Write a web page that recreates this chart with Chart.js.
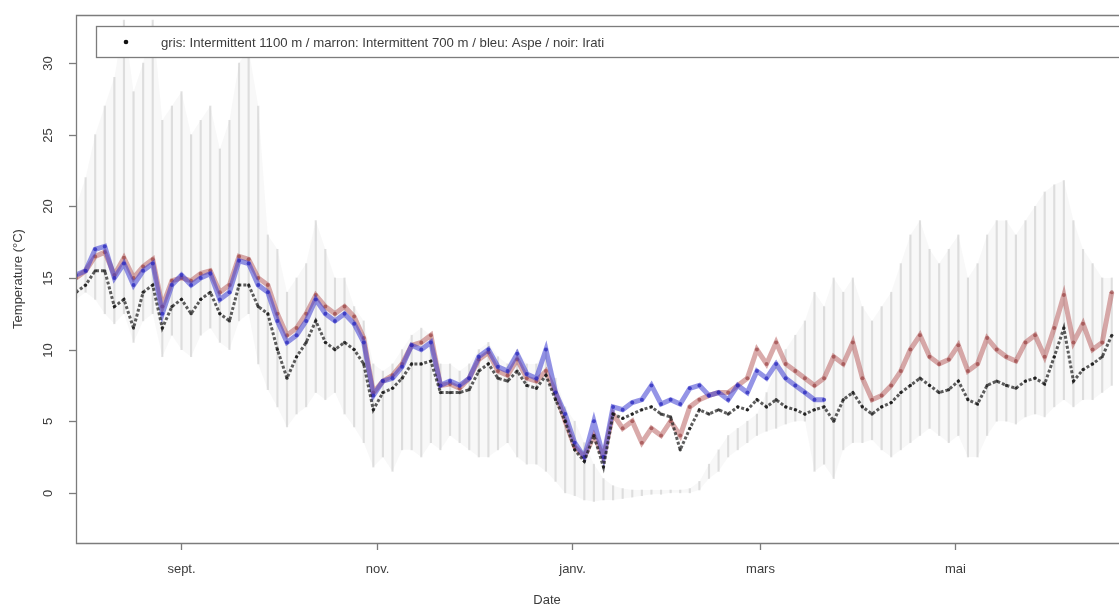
<!DOCTYPE html>
<html><head><meta charset="utf-8">
<script src="https://cdn.jsdelivr.net/npm/chart.js@4.4.0/dist/chart.umd.min.js"></script>
<style>html,body{margin:0;padding:0;background:#fff;overflow:hidden;}</style>
</head><body>
<canvas id="c" width="1119" height="607"></canvas>
<script>
// day offsets from 1 August
const days = [-2,1,4,7,10,13,16,19,22,25,28,31,34,37,40,43,46,49,52,55,58,61,64,67,70,73,76,79,82,85,88,91,94,97,100,103,106,109,112,115,118,121,124,127,130,133,136,139,142,145,148,151,154,157,160,163,166,169,172,175,178,181,184,187,190,193,196,199,202,205,208,211,214,217,220,223,226,229,232,235,238,241,244,247,250,253,256,259,262,265,268,271,274,277,280,283,286,289,292,295,298,301,304,307,310,313,316,319,322];

const aspe = [15.2,15.5,17,17.2,15,16,14.5,15.5,16,12.5,
  14.5,15.2,14.5,15,15.3,13.5,14,16.2,16,14.5,
  14,12,10.5,11,12,13.5,12.5,12,12.5,11.8,
  10.5,6.8,7.8,8,8.8,10.3,10,10.5,7.5,7.8,
  7.5,8,9.5,10,8.8,8.5,9.7,8.3,8,10,
  7,5.5,3.5,2.5,5,2.5,6,5.8,6.3,6.5,
  7.5,6.2,6.5,6.2,7.3,7.5,6.8,7,6.5,7.5,
  7,8.5,8,9,8,7.5,7,6.5,6.5,
  null,null,null,null,null,null,null,null,null,null,
  null,null,null,null,null,null,null,null,null,null,
  null,null,null,null,null,null,null,null,null,null];

const marron = [15,15.5,16.5,16.8,15.2,16.4,15,15.8,16.3,13,
  14.8,15,14.8,15.3,15.5,14,14.5,16.5,16.3,15,
  14.5,12.5,11,11.5,12.5,13.8,13,12.5,13,12.3,
  10.8,7,7.8,8.2,9,10.3,10.5,11,7.5,7.6,
  7.3,8,9.3,9.8,8.5,8.2,9.3,8,7.8,8.5,
  7,5,3.2,2.5,4,2.5,5.5,4.5,5,3.5,
  4.5,4,5,4,6,6.5,6.8,7,7,7.5,
  8,10,9,10.5,9,8.5,8,7.5,8,9.5,
  9,10.5,8,6.5,6.8,7.5,8.5,10,11,9.5,
  9,9.3,10.3,8.5,9,10.8,10,9.5,9.2,10.5,
  11,9.5,11.5,13.8,10.5,11.8,10,10.5,14];

const irati = [14,14.5,15.5,15.5,13,13.5,11.5,14,14.5,11.5,
  13,13.5,12.5,13.5,14,12.5,12,14.5,14.5,13,
  12.5,10,8,9.5,10.5,12,10.5,10,10.5,10,
  9,5.8,7,7.3,8,9,9,9.2,7,7,
  7,7.2,8.5,9,8,7.8,8.5,7.5,7.3,8.2,
  6.5,5,3,2.2,4,1.8,5.5,5.2,5.5,5.8,
  6,5.5,5.3,3,4.5,5.8,5.5,5.8,5.5,6,
  5.8,6.5,6,6.5,6,5.8,5.5,5.8,6,5,
  6.5,7,6,5.5,6,6.3,7,7.5,8,7.5,
  7,7.2,7.8,6.5,6.2,7.5,7.8,7.5,7.3,7.8,
  8,7.6,9.5,11.5,7.8,8.6,9,9.5,11];

const grisMin = [13.5,14,13.5,12.5,11.8,12.5,10.5,12,12.5,9.5,
  11,10,9.5,11,11.5,10.5,10,12,12.5,9,
  7.2,6,4.6,5.5,6,7,6.5,7,5.5,4.6,
  3.5,1.8,2.5,1.5,3,3,2.5,3.5,3,4,
  3.5,3,2.5,2.5,3,3.5,2.5,2,2,1.5,
  0.8,0,-0.2,-0.5,-0.6,-0.5,-0.5,-0.4,-0.3,-0.2,
  -0.1,-0.1,0,0,0,0.2,1,1.5,2.5,3,
  3.5,4,4.3,4.5,4.8,5,5,1.5,2,1,
  3,3.5,3.5,3.7,3,2.5,3,3.5,4,4.5,
  4,3.5,4,2.5,2.5,4,5,5,4.8,5.3,
  5.5,5.3,6,6.5,6,6.5,6.5,7,7.5];

const grisMax = [20,22,25,27,29,33,28,30,33,26,
  27,28,25,26,27,24,26,30,31,27,
  18,17,14,15,16,19,17,15,15,13,
  12,9,8.5,9,10,11,11.5,11,9,9,
  8.5,9,10,10.5,9.5,9,10,9,9,10,
  8,6,5,3.5,2,1,0.5,0.3,0.2,0.2,
  0.2,0.2,0.2,0.2,0.3,0.8,2,3,4,4.5,
  5,5.5,7,9,10,11,12,14,13,15,
  14,15,13,12,13,14,16,18,19,17,
  16,17,18,15,16,18,19,19,18,19,
  20,21,21.5,21.8,19,17,16,15,15];

const xTickDays = [31,92,153,212,273];
const xTickLabels = ['sept.','nov.','janv.','mars','mai'];
const yTicks = [0,5,10,15,20,25,30];
const legendText = 'gris: Intermittent 1100 m / marron: Intermittent 700 m / bleu: Aspe / noir: Irati';
const xTitle = 'Date';
const yTitle = 'Temperature (\u00B0C)';

const pts = arr => days.map((d,i) => ({x: d, y: arr[i]}));
const bars = days.map((d,i) => ({x: d, y: [grisMin[i], grisMax[i]]}));

const FONT = '"Liberation Sans", Arial, sans-serif';

const decor = {
  id: 'decor',
  afterDraw(chart) {
    const {ctx, chartArea: a, scales: {x, y}} = chart;
    ctx.save();
    ctx.strokeStyle = '#7c7c7c';
    ctx.lineWidth = 1.3;
    ctx.beginPath();
    ctx.moveTo(a.right + 5, a.top + 0.5);
    ctx.lineTo(a.left + 0.5, a.top + 0.5);
    ctx.lineTo(a.left + 0.5, a.bottom + 0.5);
    ctx.lineTo(a.right + 5, a.bottom + 0.5);
    ctx.stroke();
    ctx.fillStyle = '#3c3c3c';
    ctx.font = '13px ' + FONT;
    ctx.textAlign = 'center';
    ctx.textBaseline = 'middle';
    xTickDays.forEach((d, i) => {
      const px = Math.round(x.getPixelForValue(d)) + 0.5;
      ctx.beginPath(); ctx.moveTo(px, a.bottom); ctx.lineTo(px, a.bottom + 7); ctx.stroke();
      ctx.fillText(xTickLabels[i], px, 569);
    });
    yTicks.forEach(v => {
      const py = Math.round(y.getPixelForValue(v)) + 0.5;
      ctx.beginPath(); ctx.moveTo(a.left - 7, py); ctx.lineTo(a.left, py); ctx.stroke();
      ctx.save(); ctx.translate(48, py); ctx.rotate(-Math.PI / 2);
      ctx.fillText(String(v), 0, 0); ctx.restore();
    });
    ctx.fillText(xTitle, 547, 600);
    ctx.save(); ctx.translate(18, (a.top + a.bottom) / 2); ctx.rotate(-Math.PI / 2);
    ctx.fillText(yTitle, 0, 0); ctx.restore();
    // legend box
    ctx.fillStyle = '#fff';
    ctx.fillRect(96, 26, 1040, 32);
    ctx.strokeRect(96.5, 26.5, 1040, 31);
    ctx.beginPath(); ctx.arc(126, 42, 2.3, 0, 2 * Math.PI);
    ctx.fillStyle = '#111'; ctx.fill();
    ctx.fillStyle = '#3c3c3c';
    ctx.font = '13.2px ' + FONT;
    ctx.textAlign = 'left';
    ctx.fillText(legendText, 161, 43);
    ctx.restore();
  }
};

new Chart(document.getElementById('c'), {
  type: 'bar',
  data: {
    datasets: [
      {type: 'line', label: 'noir: Irati', data: pts(irati), order: 0,
        borderColor: 'rgba(25,25,25,0.7)', borderWidth: 3, borderDash: [3, 2], pointRadius: 1.6,
        pointBackgroundColor: 'rgba(20,20,20,0.8)', pointBorderWidth: 0, tension: 0, fill: false},
      {type: 'line', label: 'bleu: Aspe', data: pts(aspe), order: 1,
        borderColor: 'rgba(60,60,210,0.55)', borderWidth: 5, pointRadius: 2,
        pointBackgroundColor: 'rgba(40,40,190,0.75)', pointBorderWidth: 0, tension: 0, fill: false, spanGaps: false},
      {type: 'line', label: 'marron: Intermittent 700 m', data: pts(marron), order: 2,
        borderColor: 'rgba(180,85,85,0.5)', borderWidth: 5, pointRadius: 2,
        pointBackgroundColor: 'rgba(150,60,60,0.65)', pointBorderWidth: 0, tension: 0, fill: false},
      {type: 'bar', label: 'gris', data: bars, order: 3,
        backgroundColor: 'rgba(160,160,160,0.3)', borderWidth: 0, barThickness: 1.5, grouped: false},
      {type: 'line', label: 'gris max', data: pts(grisMax), order: 4,
        borderWidth: 0, pointRadius: 0, fill: '+1', backgroundColor: 'rgba(200,200,200,0.12)', tension: 0},
      {type: 'line', label: 'gris min', data: pts(grisMin), order: 5,
        borderWidth: 0, pointRadius: 0, fill: false, tension: 0}
    ]
  },
  options: {
    responsive: false,
    devicePixelRatio: 1,
    animation: false,
    layout: {padding: {left: 76, top: 15, right: 0, bottom: 64}},
    plugins: {legend: {display: false}, tooltip: {enabled: false}},
    scales: {
      x: {type: 'linear', min: -2, max: 323, offset: false, display: false},
      y: {type: 'linear', min: -3.5, max: 33.35, display: false}
    }
  },
  plugins: [decor]
});
</script>
</body></html>
